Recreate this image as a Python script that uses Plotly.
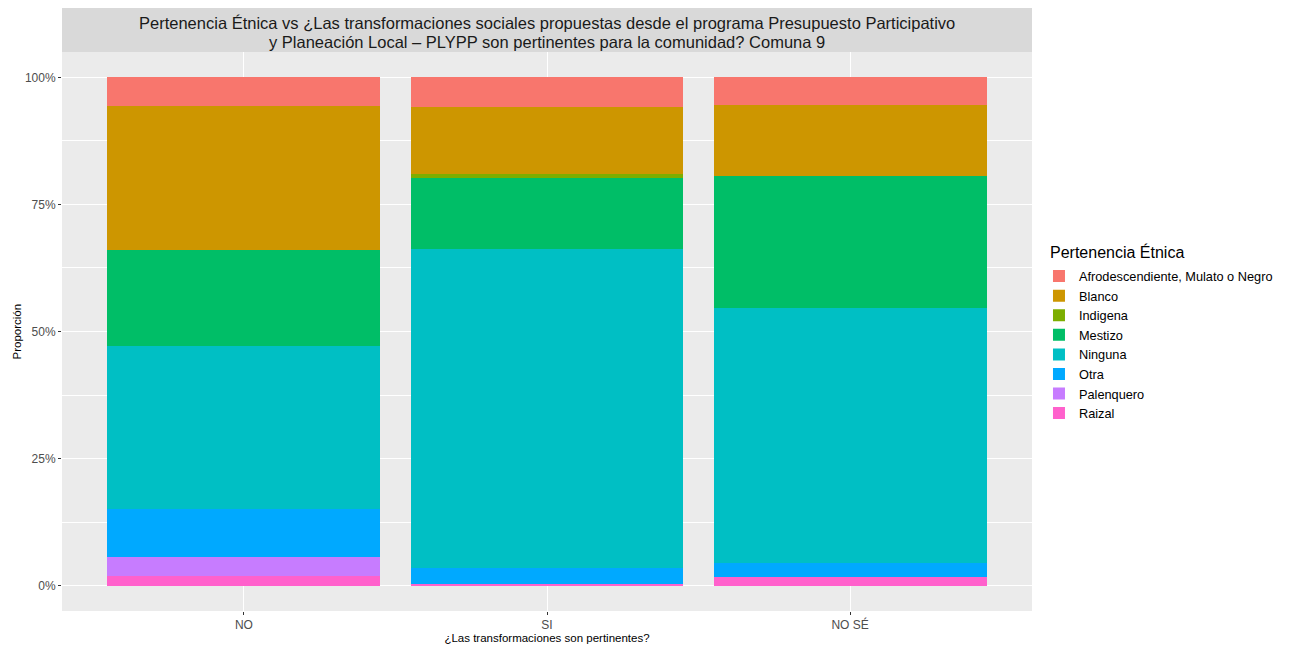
import plotly.graph_objects as go

categories = ["NO", "SI", "NO SÉ"]
groups = ["Afrodescendiente, Mulato o Negro", "Blanco", "Indigena", "Mestizo",
          "Ninguna", "Otra", "Palenquero", "Raizal"]
colors = ["#F8766D", "#CD9600", "#7CAE00", "#00BE67",
          "#00BFC4", "#00A9FF", "#C77CFF", "#FF61CC"]

# proportions (%) per category, order: NO, SI, NO SÉ
afro = [5.7, 5.8, 5.5]
blanco = [28.3, 13.2, 13.9]
indigena = [0.0, 0.8, 0.0]
mestizo = [18.9, 13.9, 26.0]
ninguna = [32.1, 62.8, 50.2]
otra = [9.4, 3.1, 2.7]
palenquero = [3.8, 0.0, 0.0]
raizal = [1.9, 0.4, 1.7]

series = [afro, blanco, indigena, mestizo, ninguna, otra, palenquero, raizal]

title_lines = [
    "Pertenencia Étnica vs ¿Las transformaciones sociales propuestas desde el programa Presupuesto Participativo",
    "y Planeación Local – PLYPP son pertinentes para la comunidad? Comuna 9",
]

fig = go.Figure()
# add from bottom of stack (Raizal) to top (Afro)
for name, vals, col in reversed(list(zip(groups, series, colors))):
    fig.add_trace(go.Bar(
        x=categories, y=[v / 100 for v in vals], name=name,
        marker=dict(color=col, line=dict(width=0)),
    ))

fig.update_layout(
    barmode="stack",
    bargap=0.1,
    width=1284, height=640,
    margin=dict(l=54, r=260, t=43.5, b=36.5, autoexpand=False),
    paper_bgcolor="white",
    plot_bgcolor="#EBEBEB",
    font=dict(family="Liberation Sans, Arial, sans-serif", color="black"),
    showlegend=True,
    legend=dict(
        traceorder="reversed",
        font=dict(size=12.75, color="black"),
        x=1.0072, xanchor="left", y=0.6256, yanchor="top",
        bgcolor="rgba(0,0,0,0)", tracegroupgap=0,
    ),
    shapes=[dict(type="rect", xref="paper", yref="paper",
                 x0=0, x1=1, y0=1.0, y1=1.0804,
                 fillcolor="#D9D9D9", line=dict(width=0), layer="below")],
    annotations=[
        dict(text=title_lines[0], xref="paper", yref="paper", x=0.5, y=1.0518,
             xanchor="center", yanchor="middle", showarrow=False,
             font=dict(size=16.5, color="#1A1A1A")),
        dict(text=title_lines[1], xref="paper", yref="paper", x=0.5, y=1.0179,
             xanchor="center", yanchor="middle", showarrow=False,
             font=dict(size=16.5, color="#1A1A1A")),
        dict(text="Pertenencia Étnica", xref="paper", yref="paper",
             x=1.017, y=0.6429, xanchor="left", yanchor="middle",
             showarrow=False, font=dict(size=16, color="black")),
        dict(text="Proporción", xref="paper", yref="paper",
             x=-0.0464, y=0.5, xanchor="center", yanchor="middle", textangle=-90,
             showarrow=False, font=dict(size=11.5, color="black")),
    ],
)

fig.update_xaxes(
    title=dict(text="¿Las transformaciones son pertinentes?", font=dict(size=11.5, color="black"), standoff=2),
    automargin=False,
    range=[-0.6, 2.6],
    showgrid=True, gridcolor="white", gridwidth=1.1,
    ticks="outside", ticklen=3, tickcolor="#333333",
    tickfont=dict(size=12, color="#4D4D4D"),
    zeroline=False, showline=False,
)
fig.update_yaxes(
    automargin=False,
    range=[-0.05, 1.05],
    tickvals=[0, 0.25, 0.5, 0.75, 1.0],
    ticktext=["0%", "25%", "50%", "75%", "100%"],
    showgrid=True, gridcolor="white", gridwidth=1.1,
    minor=dict(tickvals=[0.125, 0.375, 0.625, 0.875], showgrid=True,
               gridcolor="white", gridwidth=0.5, ticks=""),
    ticks="outside", ticklen=3, tickcolor="#333333",
    tickfont=dict(size=12, color="#4D4D4D"),
    zeroline=False, showline=False,
)

fig.write_html("out.html")
